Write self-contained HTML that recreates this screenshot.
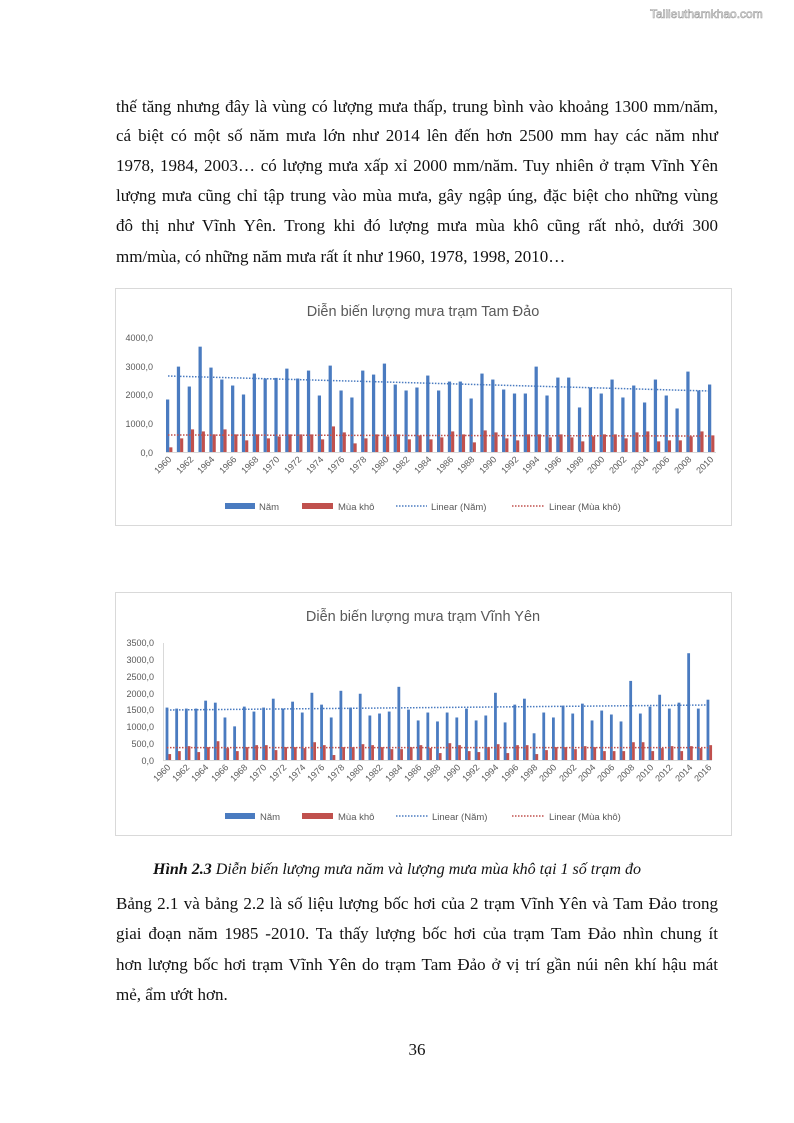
<!DOCTYPE html>
<html><head><meta charset="utf-8"><style>
body{margin:0;background:#fff;}
.page{position:relative;width:794px;height:1123px;overflow:hidden;font-family:"Liberation Serif",serif;color:#111;}
.l{position:absolute;left:116px;width:602px;font-size:17px;line-height:20px;white-space:nowrap;text-align:justify;text-align-last:justify;}
.ll{text-align-last:left;}
svg text{font-family:"Liberation Sans",sans-serif;fill:#595959;}
</style></head><body><div class="page">
<div style="position:absolute;left:650px;top:7px;font-family:'Liberation Sans',sans-serif;font-size:12px;color:#fff;-webkit-text-stroke:0.6px #999;">Tailieuthamkhao.com</div>

<div class="l" style="top:97px">thế tăng nhưng đây là vùng có lượng mưa thấp, trung bình vào khoảng 1300 mm/năm,</div>
<div class="l" style="top:126px">cá biệt có một số năm mưa lớn như 2014 lên đến hơn 2500 mm hay các năm như</div>
<div class="l" style="top:156px">1978, 1984, 2003… có lượng mưa xấp xỉ 2000 mm/năm. Tuy nhiên ở trạm Vĩnh Yên</div>
<div class="l" style="top:186px">lượng mưa cũng chỉ tập trung vào mùa mưa, gây ngập úng, đặc biệt cho những vùng</div>
<div class="l" style="top:216px">đô thị như Vĩnh Yên. Trong khi đó lượng mưa mùa khô cũng rất nhỏ, dưới 300</div>
<div class="l ll" style="top:247px">mm/mùa, có những năm mưa rất ít như 1960, 1978, 1998, 2010…</div>

<svg style="position:absolute;left:0;top:0" width="794" height="1123">
<rect x="115.5" y="288.5" width="616" height="237" fill="#fff" stroke="#d9d9d9"/>
<text x="423" y="316" font-size="14.5" text-anchor="middle">Diễn biến lượng mưa trạm Tam Đảo</text>
<g font-size="9" text-anchor="end">
<text x="153" y="341">4000,0</text><text x="153" y="370">3000,0</text><text x="153" y="398">2000,0</text><text x="153" y="427">1000,0</text><text x="153" y="456">0,0</text>
</g>
<g transform="translate(166,452) scale(10.84,-0.02875)">
<g fill="#4a7bc0">
<rect x="0" width=".3" height="1826"/><rect x="1" width=".3" height="2970"/><rect x="2" width=".3" height="2277"/><rect x="3" width=".3" height="3664"/><rect x="4" width=".3" height="2936"/><rect x="5" width=".3" height="2520"/><rect x="6" width=".3" height="2312"/><rect x="7" width=".3" height="2000"/><rect x="8" width=".3" height="2728"/><rect x="9" width=".3" height="2555"/><rect x="10" width=".3" height="2578"/><rect x="11" width=".3" height="2900"/><rect x="12" width=".3" height="2555"/><rect x="13" width=".3" height="2832"/><rect x="14" width=".3" height="1965"/><rect x="15" width=".3" height="3005"/><rect x="16" width=".3" height="2139"/><rect x="17" width=".3" height="1896"/><rect x="18" width=".3" height="2832"/><rect x="19" width=".3" height="2693"/><rect x="20" width=".3" height="3075"/><rect x="21" width=".3" height="2347"/><rect x="22" width=".3" height="2139"/><rect x="23" width=".3" height="2243"/><rect x="24" width=".3" height="2659"/><rect x="25" width=".3" height="2139"/><rect x="26" width=".3" height="2450"/><rect x="27" width=".3" height="2450"/><rect x="28" width=".3" height="1861"/><rect x="29" width=".3" height="2728"/><rect x="30" width=".3" height="2520"/><rect x="31" width=".3" height="2173"/><rect x="32" width=".3" height="2034"/><rect x="33" width=".3" height="2034"/><rect x="34" width=".3" height="2970"/><rect x="35" width=".3" height="1965"/><rect x="36" width=".3" height="2589"/><rect x="37" width=".3" height="2589"/><rect x="38" width=".3" height="1549"/><rect x="39" width=".3" height="2243"/><rect x="40" width=".3" height="2034"/><rect x="41" width=".3" height="2520"/><rect x="42" width=".3" height="1896"/><rect x="43" width=".3" height="2312"/><rect x="44" width=".3" height="1722"/><rect x="45" width=".3" height="2520"/><rect x="46" width=".3" height="1965"/><rect x="47" width=".3" height="1514"/><rect x="48" width=".3" height="2797"/><rect x="49" width=".3" height="2139"/><rect x="50" width=".3" height="2347"/>
</g>
<g fill="#c0504d">
<rect x="0.3" width=".29" height="162"/><rect x="1.3" width=".29" height="474"/><rect x="2.3" width=".29" height="786"/><rect x="3.3" width=".29" height="716"/><rect x="4.3" width=".29" height="613"/><rect x="5.3" width=".29" height="786"/><rect x="6.3" width=".29" height="613"/><rect x="7.3" width=".29" height="405"/><rect x="8.3" width=".29" height="613"/><rect x="9.3" width=".29" height="474"/><rect x="10.3" width=".29" height="543"/><rect x="11.3" width=".29" height="613"/><rect x="12.3" width=".29" height="613"/><rect x="13.3" width=".29" height="613"/><rect x="14.3" width=".29" height="440"/><rect x="15.3" width=".29" height="890"/><rect x="16.3" width=".29" height="682"/><rect x="17.3" width=".29" height="300"/><rect x="18.3" width=".29" height="474"/><rect x="19.3" width=".29" height="613"/><rect x="20.3" width=".29" height="543"/><rect x="21.3" width=".29" height="613"/><rect x="22.3" width=".29" height="440"/><rect x="23.3" width=".29" height="578"/><rect x="24.3" width=".29" height="440"/><rect x="25.3" width=".29" height="509"/><rect x="26.3" width=".29" height="716"/><rect x="27.3" width=".29" height="613"/><rect x="28.3" width=".29" height="335"/><rect x="29.3" width=".29" height="751"/><rect x="30.3" width=".29" height="682"/><rect x="31.3" width=".29" height="474"/><rect x="32.3" width=".29" height="405"/><rect x="33.3" width=".29" height="613"/><rect x="34.3" width=".29" height="613"/><rect x="35.3" width=".29" height="509"/><rect x="36.3" width=".29" height="613"/><rect x="37.3" width=".29" height="509"/><rect x="38.3" width=".29" height="370"/><rect x="39.3" width=".29" height="543"/><rect x="40.3" width=".29" height="613"/><rect x="41.3" width=".29" height="613"/><rect x="42.3" width=".29" height="474"/><rect x="43.3" width=".29" height="682"/><rect x="44.3" width=".29" height="716"/><rect x="45.3" width=".29" height="370"/><rect x="46.3" width=".29" height="405"/><rect x="47.3" width=".29" height="405"/><rect x="48.3" width=".29" height="543"/><rect x="49.3" width=".29" height="716"/><rect x="50.3" width=".29" height="578"/>
</g>
</g>
<line x1="166" y1="452.5" x2="716" y2="452.5" stroke="#d9d9d9"/>
<line x1="168" y1="376" x2="710" y2="391" stroke="#4a7bc0" stroke-width="1.5" stroke-dasharray="1.5,1.5"/>
<line x1="168" y1="435" x2="710" y2="436" stroke="#c0504d" stroke-width="1.5" stroke-dasharray="1.5,1.5"/>
<g font-size="9" text-anchor="end">
<text transform="translate(172,460) rotate(-45)">1960</text><text transform="translate(194,460) rotate(-45)">1962</text><text transform="translate(215,460) rotate(-45)">1964</text><text transform="translate(237,460) rotate(-45)">1966</text><text transform="translate(259,460) rotate(-45)">1968</text><text transform="translate(280,460) rotate(-45)">1970</text><text transform="translate(302,460) rotate(-45)">1972</text><text transform="translate(324,460) rotate(-45)">1974</text><text transform="translate(345,460) rotate(-45)">1976</text><text transform="translate(367,460) rotate(-45)">1978</text><text transform="translate(389,460) rotate(-45)">1980</text><text transform="translate(410,460) rotate(-45)">1982</text><text transform="translate(432,460) rotate(-45)">1984</text><text transform="translate(454,460) rotate(-45)">1986</text><text transform="translate(475,460) rotate(-45)">1988</text><text transform="translate(497,460) rotate(-45)">1990</text><text transform="translate(519,460) rotate(-45)">1992</text><text transform="translate(540,460) rotate(-45)">1994</text><text transform="translate(562,460) rotate(-45)">1996</text><text transform="translate(584,460) rotate(-45)">1998</text><text transform="translate(605,460) rotate(-45)">2000</text><text transform="translate(627,460) rotate(-45)">2002</text><text transform="translate(649,460) rotate(-45)">2004</text><text transform="translate(670,460) rotate(-45)">2006</text><text transform="translate(692,460) rotate(-45)">2008</text><text transform="translate(714,460) rotate(-45)">2010</text>
</g>
<g font-size="9.5">
<rect x="225" y="503" width="30" height="6" fill="#4a7bc0"/><text x="259" y="510">Năm</text>
<rect x="302" y="503" width="31" height="6" fill="#c0504d"/><text x="338" y="510">Mùa khô</text>
<line x1="396" y1="506" x2="427" y2="506" stroke="#4a7bc0" stroke-width="1.5" stroke-dasharray="1.5,1.5"/><text x="431" y="510">Linear (Năm)</text>
<line x1="512" y1="506" x2="545" y2="506" stroke="#c0504d" stroke-width="1.5" stroke-dasharray="1.5,1.5"/><text x="549" y="510">Linear (Mùa khô)</text>
</g>

<rect x="115.5" y="592.5" width="616" height="243" fill="#fff" stroke="#d9d9d9"/>
<text x="423" y="621" font-size="14.5" text-anchor="middle">Diễn biến lượng mưa trạm Vĩnh Yên</text>
<g font-size="9" text-anchor="end">
<text x="154" y="646">3500,0</text><text x="154" y="663">3000,0</text><text x="154" y="680">2500,0</text><text x="154" y="697">2000,0</text><text x="154" y="713">1500,0</text><text x="154" y="730">1000,0</text><text x="154" y="747">500,0</text><text x="154" y="764">0,0</text>
</g>
<line x1="163.5" y1="643" x2="163.5" y2="760" stroke="#d9d9d9"/>
<g transform="translate(165.6,760) scale(9.66,-0.03343)">
<g fill="#4a7bc0">
<rect x="0" width=".29" height="1568"/><rect x="1" width=".29" height="1538"/><rect x="2" width=".29" height="1538"/><rect x="3" width=".29" height="1538"/><rect x="4" width=".29" height="1775"/><rect x="5" width=".29" height="1715"/><rect x="6" width=".29" height="1272"/><rect x="7" width=".29" height="1006"/><rect x="8" width=".29" height="1597"/><rect x="9" width=".29" height="1449"/><rect x="10" width=".29" height="1568"/><rect x="11" width=".29" height="1834"/><rect x="12" width=".29" height="1538"/><rect x="13" width=".29" height="1745"/><rect x="14" width=".29" height="1420"/><rect x="15" width=".29" height="2011"/><rect x="16" width=".29" height="1656"/><rect x="17" width=".29" height="1272"/><rect x="18" width=".29" height="2070"/><rect x="19" width=".29" height="1568"/><rect x="20" width=".29" height="1982"/><rect x="21" width=".29" height="1331"/><rect x="22" width=".29" height="1390"/><rect x="23" width=".29" height="1449"/><rect x="24" width=".29" height="2189"/><rect x="25" width=".29" height="1508"/><rect x="26" width=".29" height="1183"/><rect x="27" width=".29" height="1420"/><rect x="28" width=".29" height="1153"/><rect x="29" width=".29" height="1420"/><rect x="30" width=".29" height="1272"/><rect x="31" width=".29" height="1538"/><rect x="32" width=".29" height="1183"/><rect x="33" width=".29" height="1331"/><rect x="34" width=".29" height="2011"/><rect x="35" width=".29" height="1124"/><rect x="36" width=".29" height="1656"/><rect x="37" width=".29" height="1834"/><rect x="38" width=".29" height="799"/><rect x="39" width=".29" height="1420"/><rect x="40" width=".29" height="1272"/><rect x="41" width=".29" height="1627"/><rect x="42" width=".29" height="1390"/><rect x="43" width=".29" height="1686"/><rect x="44" width=".29" height="1183"/><rect x="45" width=".29" height="1479"/><rect x="46" width=".29" height="1361"/><rect x="47" width=".29" height="1153"/><rect x="48" width=".29" height="2366"/><rect x="49" width=".29" height="1390"/><rect x="50" width=".29" height="1597"/><rect x="51" width=".29" height="1952"/><rect x="52" width=".29" height="1538"/><rect x="53" width=".29" height="1715"/><rect x="54" width=".29" height="3194"/><rect x="55" width=".29" height="1538"/><rect x="56" width=".29" height="1804"/>
</g>
<g fill="#c0504d">
<rect x="0.29" width=".28" height="177"/><rect x="1.29" width=".28" height="266"/><rect x="2.29" width=".28" height="414"/><rect x="3.29" width=".28" height="237"/><rect x="4.29" width=".28" height="384"/><rect x="5.29" width=".28" height="562"/><rect x="6.29" width=".28" height="355"/><rect x="7.29" width=".28" height="266"/><rect x="8.29" width=".28" height="384"/><rect x="9.29" width=".28" height="444"/><rect x="10.29" width=".28" height="444"/><rect x="11.29" width=".28" height="296"/><rect x="12.29" width=".28" height="384"/><rect x="13.29" width=".28" height="384"/><rect x="14.29" width=".28" height="355"/><rect x="15.29" width=".28" height="532"/><rect x="16.29" width=".28" height="444"/><rect x="17.29" width=".28" height="148"/><rect x="18.29" width=".28" height="384"/><rect x="19.29" width=".28" height="384"/><rect x="20.29" width=".28" height="473"/><rect x="21.29" width=".28" height="444"/><rect x="22.29" width=".28" height="384"/><rect x="23.29" width=".28" height="325"/><rect x="24.29" width=".28" height="325"/><rect x="25.29" width=".28" height="384"/><rect x="26.29" width=".28" height="444"/><rect x="27.29" width=".28" height="355"/><rect x="28.29" width=".28" height="207"/><rect x="29.29" width=".28" height="503"/><rect x="30.29" width=".28" height="444"/><rect x="31.29" width=".28" height="266"/><rect x="32.29" width=".28" height="237"/><rect x="33.29" width=".28" height="384"/><rect x="34.29" width=".28" height="473"/><rect x="35.29" width=".28" height="207"/><rect x="36.29" width=".28" height="444"/><rect x="37.29" width=".28" height="444"/><rect x="38.29" width=".28" height="177"/><rect x="39.29" width=".28" height="296"/><rect x="40.29" width=".28" height="384"/><rect x="41.29" width=".28" height="384"/><rect x="42.29" width=".28" height="325"/><rect x="43.29" width=".28" height="414"/><rect x="44.29" width=".28" height="384"/><rect x="45.29" width=".28" height="266"/><rect x="46.29" width=".28" height="266"/><rect x="47.29" width=".28" height="266"/><rect x="48.29" width=".28" height="532"/><rect x="49.29" width=".28" height="532"/><rect x="50.29" width=".28" height="266"/><rect x="51.29" width=".28" height="355"/><rect x="52.29" width=".28" height="414"/><rect x="53.29" width=".28" height="266"/><rect x="54.29" width=".28" height="414"/><rect x="55.29" width=".28" height="355"/><rect x="56.29" width=".28" height="444"/>
</g>
</g>
<line x1="163" y1="760.5" x2="712" y2="760.5" stroke="#d9d9d9"/>
<line x1="167" y1="710" x2="708" y2="705" stroke="#4a7bc0" stroke-width="1.5" stroke-dasharray="1.5,1.5"/>
<line x1="167" y1="747.6" x2="708" y2="747.6" stroke="#c0504d" stroke-width="1.5" stroke-dasharray="1.5,1.5"/>
<g font-size="9" text-anchor="end">
<text transform="translate(171,768) rotate(-45)">1960</text><text transform="translate(190,768) rotate(-45)">1962</text><text transform="translate(209,768) rotate(-45)">1964</text><text transform="translate(229,768) rotate(-45)">1966</text><text transform="translate(248,768) rotate(-45)">1968</text><text transform="translate(267,768) rotate(-45)">1970</text><text transform="translate(287,768) rotate(-45)">1972</text><text transform="translate(306,768) rotate(-45)">1974</text><text transform="translate(325,768) rotate(-45)">1976</text><text transform="translate(345,768) rotate(-45)">1978</text><text transform="translate(364,768) rotate(-45)">1980</text><text transform="translate(383,768) rotate(-45)">1982</text><text transform="translate(403,768) rotate(-45)">1984</text><text transform="translate(422,768) rotate(-45)">1986</text><text transform="translate(441,768) rotate(-45)">1988</text><text transform="translate(461,768) rotate(-45)">1990</text><text transform="translate(480,768) rotate(-45)">1992</text><text transform="translate(499,768) rotate(-45)">1994</text><text transform="translate(519,768) rotate(-45)">1996</text><text transform="translate(538,768) rotate(-45)">1998</text><text transform="translate(557,768) rotate(-45)">2000</text><text transform="translate(577,768) rotate(-45)">2002</text><text transform="translate(596,768) rotate(-45)">2004</text><text transform="translate(615,768) rotate(-45)">2006</text><text transform="translate(635,768) rotate(-45)">2008</text><text transform="translate(654,768) rotate(-45)">2010</text><text transform="translate(673,768) rotate(-45)">2012</text><text transform="translate(693,768) rotate(-45)">2014</text><text transform="translate(712,768) rotate(-45)">2016</text>
</g>
<g font-size="9.5">
<rect x="225" y="813" width="30" height="6" fill="#4a7bc0"/><text x="260" y="820">Năm</text>
<rect x="302" y="813" width="31" height="6" fill="#c0504d"/><text x="338" y="820">Mùa khô</text>
<line x1="396" y1="816" x2="428" y2="816" stroke="#4a7bc0" stroke-width="1.5" stroke-dasharray="1.5,1.5"/><text x="432" y="820">Linear (Năm)</text>
<line x1="512" y1="816" x2="545" y2="816" stroke="#c0504d" stroke-width="1.5" stroke-dasharray="1.5,1.5"/><text x="549" y="820">Linear (Mùa khô)</text>
</g>
</svg>

<div style="position:absolute;left:0;width:794px;top:861px;text-align:center;font-size:16px;font-style:italic;"><b>Hình 2.3</b> Diễn biến lượng mưa năm và lượng mưa mùa khô tại 1 số trạm đo</div>
<div class="l" style="top:894px">Bảng 2.1 và bảng 2.2 là số liệu lượng bốc hơi của 2 trạm Vĩnh Yên và Tam Đảo trong</div>
<div class="l" style="top:924px">giai đoạn năm 1985 -2010. Ta thấy lượng bốc hơi của trạm Tam Đảo nhìn chung ít</div>
<div class="l" style="top:955px">hơn lượng bốc hơi trạm Vĩnh Yên do trạm Tam Đảo ở vị trí gần núi nên khí hậu mát</div>
<div class="l ll" style="top:985px">mẻ, ẩm ướt hơn.</div>
<div style="position:absolute;left:0;width:834px;top:1040px;text-align:center;font-size:17px;">36</div>
</div></body></html>
